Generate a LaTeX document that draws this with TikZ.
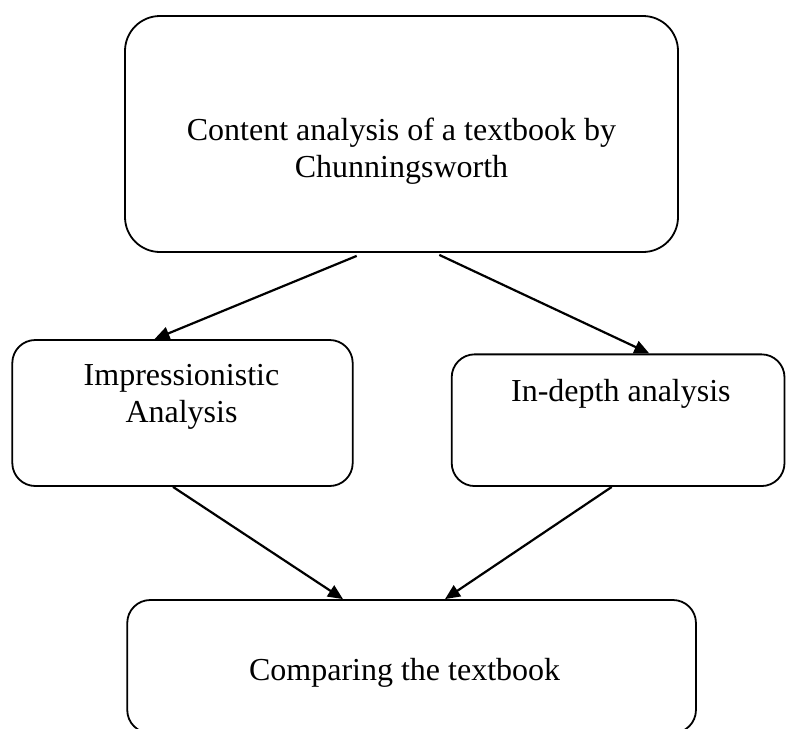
\documentclass[tikz,border=0pt]{standalone}
\usepackage{fontspec}
\setmainfont{Liberation Serif}
\usepackage{tikz}
\usetikzlibrary{arrows.meta,positioning}
\definecolor{boxline}{RGB}{0,0,0}
\tikzset{
  bx/.style  ={draw=boxline, line width=0.9pt, inner sep=0pt},
  bxr/.style ={bx, rounded corners=11.5pt},
  txt/.style ={font=\fontsize{16}{18.4}\selectfont, inner sep=0pt, align=center},
  arr/.style ={draw=boxline, line width=1.1pt, -{Triangle[length=7.5pt,width=6.5pt]}},
}

\begin{document}
\begin{tikzpicture}
  \useasboundingbox (0,0) rectangle (393pt,-364pt);
  \node[bx,rounded corners=17.5pt,minimum width=276.5pt,minimum height=118pt] (content) at (200.75pt,-67pt) {};
  \node[bxr,minimum width=170.2pt,minimum height=73pt] (impress) at (91.25pt,-206.5pt) {};
  \node[bxr,minimum width=166.4pt,minimum height=65.85pt] (indepth) at (309.05pt,-210.1pt) {};
  \node[bxr,minimum width=284.35pt,minimum height=66.5pt] (compare) at (205.8pt,-333.25pt) {};
  \node[txt,below=51.2pt of content.north] (contenttxt) {Content analysis of a textbook by\\Chunningsworth};
  \node[txt,below=12.4pt of impress.north,xshift=-0.5pt] (impresstxt) {Impressionistic\\Analysis};
  \node[txt,below=12.75pt of indepth.north,xshift=1.4pt] (indepthtxt) {In-depth analysis};
  \node[txt,below=29.6pt of compare.north,xshift=-3.5pt] (comparetxt) {Comparing the textbook};
  \draw[arr] ([xshift=-22.4pt,yshift=-1.5pt]content.south) -- ([xshift=-14pt]impress.north);
  \draw[arr] ([xshift=18.9pt,yshift=-1pt]content.south) -- ([xshift=15.6pt]indepth.north);
  \draw[arr] ([xshift=-4.75pt]impress.south) -- ([xshift=-34.3pt]compare.north);
  \draw[arr] ([xshift=-3.2pt]indepth.south) -- ([xshift=16.7pt]compare.north);
\end{tikzpicture}
\end{document}
